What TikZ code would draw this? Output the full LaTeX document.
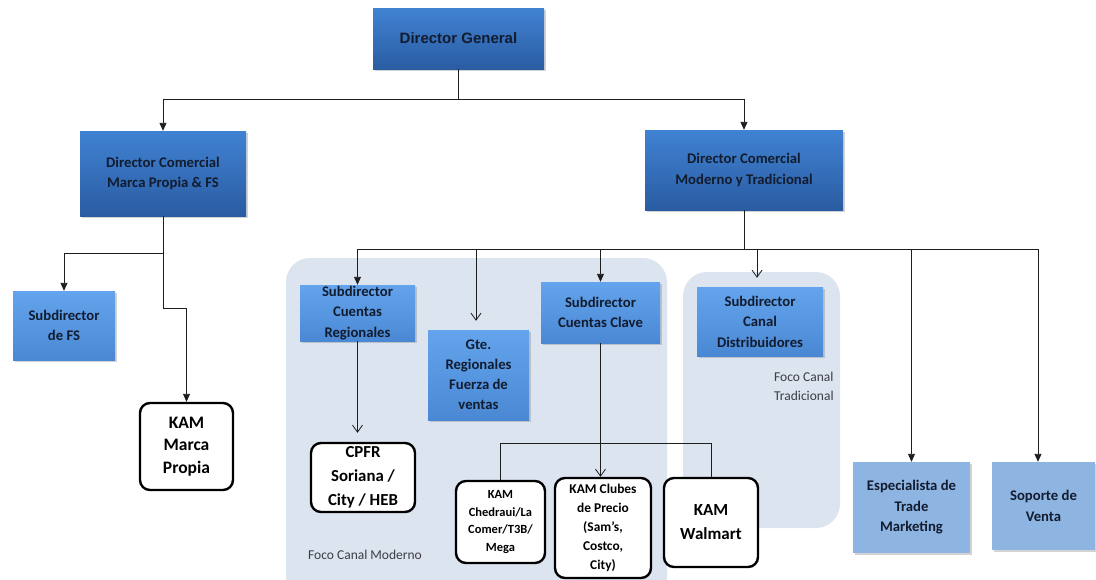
\documentclass[tikz,border=0pt]{standalone}
\usepackage{fontspec}
\setmainfont{Carlito}
\newfontfamily\arialfont{Liberation Sans}
\usetikzlibrary{arrows.meta,shadows}

\definecolor{dtop}{RGB}{64,130,210}
\definecolor{dbot}{RGB}{42,92,162}
\definecolor{mtop}{RGB}{100,164,236}
\definecolor{mbot}{RGB}{74,136,212}
\definecolor{lightbox}{RGB}{142,180,226}
\definecolor{panelbg}{RGB}{220,228,240}
\definecolor{boxtext}{RGB}{18,28,46}
\definecolor{focotext}{RGB}{60,60,66}
\definecolor{wire}{RGB}{30,30,30}

\tikzset{
  box/.style={rectangle, inner sep=0pt, align=center, text=boxtext,
    font=\fontsize{14.7}{20.5}\selectfont\bfseries,
    drop shadow={opacity=0.35, shadow xshift=1.5pt, shadow yshift=-1.8pt}},
  darkbox/.style={box, top color=dtop, bottom color=dbot},
  midbox/.style={box, top color=mtop, bottom color=mbot},
  lightbox/.style={box, fill=lightbox},
  kambox/.style={rectangle, rounded corners=10pt, draw=black, line width=2.4pt,
    fill=white, inner sep=0pt, align=center, text=black},
  panel/.style={fill=panelbg, draw=none, rounded corners=24pt},
  foco/.style={text=focotext, font=\fontsize{13.5}{19}\selectfont, inner sep=0pt},
  wireln/.style={draw=wire, line width=0.9pt},
  fullarrow/.style={wireln, -{Triangle[length=8pt,width=7pt]}},
  openarrow/.style={wireln, -{Straight Barb[length=7pt,width=10pt,line width=0.8pt]}, shorten >=9pt},
}

\begin{document}
\begin{tikzpicture}[x=1pt,y=-1pt]
\useasboundingbox (0,0) rectangle (1096,579);

% shaded areas grouping the two channels
\fill[panel] (286,258) rectangle (667,600);
\fill[panel] (683,272) rectangle (840,528);

% top level
\node[darkbox, minimum width=171pt, minimum height=61pt,
      font=\arialfont\fontsize{15}{18}\selectfont\bfseries] (dg) at (458.5,38.5) {Director General};

% commercial directors
\node[darkbox, minimum width=166pt, minimum height=85pt] (dcmp) at (163,173.5)
  {Director Comercial\\Marca Propia \& FS};
\node[darkbox, minimum width=198pt, minimum height=80pt] (dcmt) at (744,170)
  {Director Comercial\\Moderno y Tradicional};

% left branch
\node[midbox, minimum width=102pt, minimum height=69pt] (sfs) at (64,325.5)
  {Subdirector\\de FS};
\node[kambox, minimum width=93pt, minimum height=87pt,
      font=\fontsize{17.5}{22.5}\selectfont\bfseries] (kmp) at (186.5,446.5)
  {KAM\\Marca\\Propia};

% modern channel
\node[midbox, minimum width=115pt, minimum height=56pt] (scr) at (357.5,313)
  {Subdirector\\Cuentas\\Regionales};
\node[midbox, minimum width=101pt, minimum height=90pt,
      font=\fontsize{14.7}{20}\selectfont\bfseries] (gte) at (478.5,375)
  {Gte.\\Regionales\\Fuerza de\\ventas};
\node[midbox, minimum width=119pt, minimum height=61pt] (scc) at (600.5,312.5)
  {Subdirector\\Cuentas Clave};

\node[kambox, minimum width=104pt, minimum height=69pt,
      font=\fontsize{16.8}{24}\selectfont\bfseries] (cpfr) at (363,477.5)
  {CPFR\\Soriana /\\City / HEB};
\node[kambox, minimum width=89pt, minimum height=82pt,
      font=\fontsize{12.5}{17.5}\selectfont\bfseries] (ched) at (500.5,522)
  {KAM\\Chedraui/La\\Comer/T3B/\\Mega};
\node[kambox, minimum width=96pt, minimum height=100pt,
      font=\fontsize{13.4}{19}\selectfont\bfseries] (clu) at (603,528)
  {KAM Clubes\\de Precio\\(Sam’s,\\Costco,\\City)};
\node[kambox, minimum width=94pt, minimum height=89pt,
      font=\fontsize{17}{24}\selectfont\bfseries] (wal) at (711,522.5)
  {KAM\\Walmart};

% traditional channel
\node[midbox, minimum width=126pt, minimum height=69pt] (scd) at (760,321.5)
  {Subdirector\\Canal\\Distribuidores};

% support roles
\node[lightbox, minimum width=117pt, minimum height=91pt] (etm) at (911.5,507.5)
  {Especialista de\\Trade\\Marketing};
\node[lightbox, minimum width=103pt, minimum height=88pt] (sop) at (1043.5,506)
  {Soporte de\\Venta};

% area captions
\node[foco, anchor=west] (fcm) at (308,555) {Foco Canal Moderno};
\node[foco, anchor=north west, align=left] (fct) at (774,372) {Foco Canal\\Tradicional};

% bus levels
\coordinate (lvA) at (0,99);
\coordinate (lvB) at (0,253);
\coordinate (lvC) at (0,308);
\coordinate (lvD) at (0,249);
\coordinate (lvE) at (0,443);

% Director General to commercial directors
\draw[wireln] (dg.south) -- (dg.south |- lvA);
\draw[fullarrow] (dg.south |- lvA) -| (dcmp.north);
\draw[fullarrow] (dg.south |- lvA) -| (dcmt.north);

% Marca Propia & FS branch
\draw[wireln] (dcmp.south) -- (dcmp.south |- lvB);
\draw[fullarrow] (dcmp.south |- lvB) -| (sfs.north);
\draw[fullarrow] (dcmp.south |- lvB) -- (dcmp.south |- lvC) -| (kmp.north);

% Moderno y Tradicional branch
\draw[wireln] (dcmt.south) -- (dcmt.south |- lvD);
\draw[wireln] (scr.north |- lvD) -- ([xshift=-5.5pt]sop.north |- lvD);
\draw[fullarrow] (scr.north |- lvD) -- (scr.north);
\draw[openarrow] ([xshift=-2.5pt]gte.north |- lvD) -- ([xshift=-2.5pt]gte.north);
\draw[fullarrow] (scc.north |- lvD) -- (scc.north);
\draw[openarrow] ([xshift=-3pt]scd.north |- lvD) -- ([xshift=-3pt]scd.north);
\draw[fullarrow] (etm.north |- lvD) -- (etm.north);
\draw[fullarrow] ([xshift=-5.5pt]sop.north |- lvD) -- ([xshift=-5.5pt]sop.north);

% regional accounts
\draw[openarrow] (scr.south) -- (scr.south |- cpfr.north);

% key accounts
\draw[wireln] (scc.south) -- (scc.south |- lvE);
\draw[wireln] (ched.north |- lvE) -- (wal.north |- lvE);
\draw[wireln] (ched.north |- lvE) -- (ched.north);
\draw[wireln] (wal.north |- lvE) -- (wal.north);
\draw[openarrow, shorten >=0pt] (scc.south |- lvE) -- (scc.south |- clu.north);
\end{tikzpicture}
\end{document}
